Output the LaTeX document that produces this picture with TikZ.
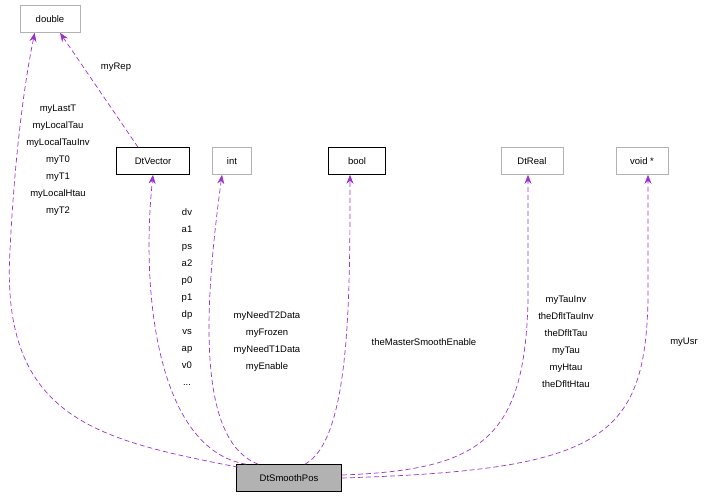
\documentclass[tikz,border=0pt]{standalone}
\usepackage{fontspec}
\setmainfont{Liberation Sans}
\usetikzlibrary{arrows.meta,calc}
\definecolor{edge}{HTML}{9A32CD}
\begin{document}
\begin{tikzpicture}[x=1pt,y=-1pt,
  box/.style={draw=#1,line width=0.6pt,minimum height=27pt,inner sep=2pt,font=\fontsize{9.5}{11}\selectfont},
  lab/.style={font=\fontsize{9.5}{17}\selectfont,align=center},
  conn/.style={draw=edge,dashed,dash pattern=on 5pt off 3pt,line width=0.7pt,-{Stealth[length=9pt,width=7pt]}}]
\useasboundingbox (0,0) rectangle (709,499);
\node[box=gray!60,minimum width=60pt] (dbl) at (50,19) {double};
\node[box=black,minimum width=73pt] (vec) at (153,161) {DtVector};
\node[box=gray!60,minimum width=39pt] (int) at (232,161) {int};
\node[box=black,minimum width=57pt] (bool) at (357,161) {bool};
\node[box=gray!60,minimum width=62pt] (real) at (532,161) {DtReal};
\node[box=gray!60,minimum width=52pt] (void) at (642,161) {void *};
\node[box=black,fill=gray!60,minimum width=105pt] (sp) at (289,478) {DtSmoothPos};
\draw[conn] ($(sp.north west)+(2,3)$) .. controls (100,440) and (0,420) .. (10,250) .. controls (15,150) and (25,80) .. ($(dbl.south west)+(15,0)$);
\draw[conn] ($(vec.north)+(-15,0)$) -- ($(dbl.south)+(10,0)$);
\draw[conn] ($(sp.north west)+(10,0)$) .. controls (160,450) and (140,300) .. (vec.south);
\draw[conn] ($(sp.north west)+(22,0)$) .. controls (195,440) and (205,300) .. ($(int.south)+(-10,0)$);
\draw[conn] ($(sp.north)+(16,0)$) .. controls (350,440) and (350,300) .. ($(bool.south)+(-7,0)$);
\draw[conn] ($(sp.east)+(0,-3)$) .. controls (480,470) and (525,440) .. (528,300) -- ($(real.south)+(-4,0)$);
\draw[conn] (sp.east) .. controls (600,470) and (645,440) .. (648,300) -- ($(void.south)+(6,0)$);
\node[lab] (l1) at (58,160) {myLastT\\myLocalTau\\myLocalTauInv\\myT0\\myT1\\myLocalHtau\\myT2};
\node[lab] (l2) at (116,67) {myRep};
\node[lab] (l3) at (187,297) {dv\\a1\\ps\\a2\\p0\\p1\\dp\\vs\\ap\\v0\\...};
\node[lab] (l4) at (267,342) {myNeedT2Data\\myFrozen\\myNeedT1Data\\myEnable};
\node[lab] (l5) at (424,342) {theMasterSmoothEnable};
\node[lab] (l6) at (566,342) {myTauInv\\theDfltTauInv\\theDfltTau\\myTau\\myHtau\\theDfltHtau};
\node[lab] (l7) at (684,342) {myUsr};
\end{tikzpicture}
\end{document}
